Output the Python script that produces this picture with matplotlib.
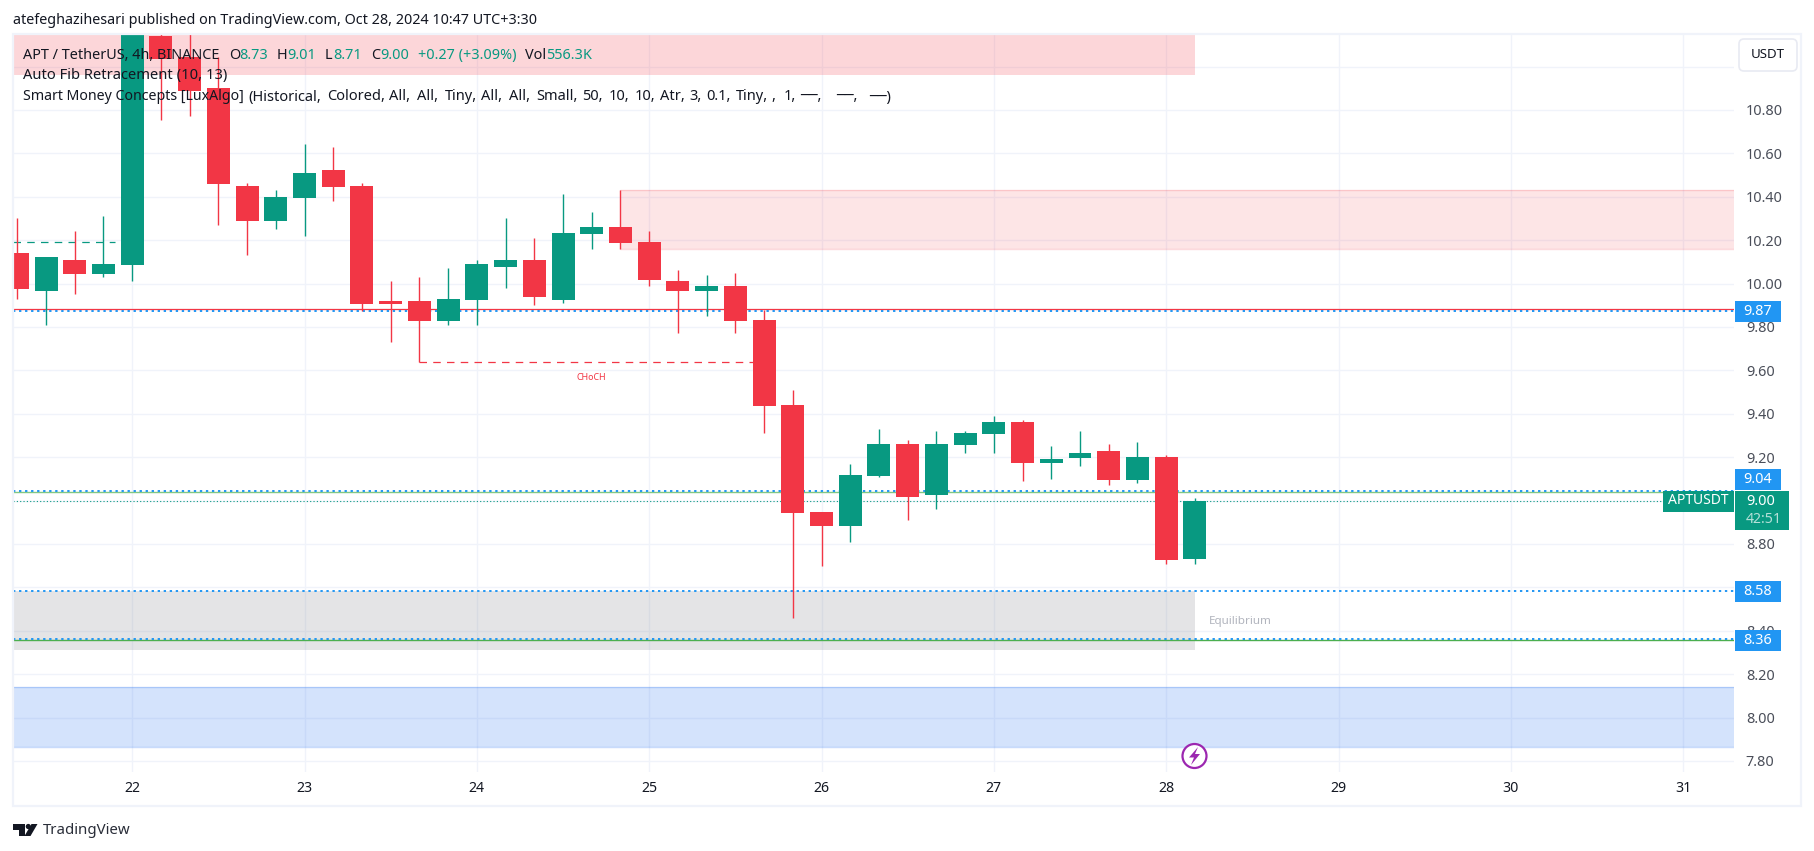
import numpy as np
import matplotlib
matplotlib.use("Agg")
import matplotlib.pyplot as plt
from matplotlib.patches import Rectangle, FancyBboxPatch, Polygon, Circle
from matplotlib.transforms import Affine2D

W, H = 1814, 851
plt.rcParams['font.family'] = ['Noto Sans', 'DejaVu Sans']

# ---- data ----
bar_index = list(range(-4, 38))
opens = [10.141, 9.966, 10.109, 10.044, 10.086, 11.141, 11.043, 10.901, 10.450, 10.289, 10.395, 10.524, 10.450, 9.920,
         9.920, 9.828, 9.924, 10.077, 10.109, 9.924, 10.229, 10.261, 10.192, 10.012, 9.966, 9.989, 9.833, 9.441,
         8.948, 8.883, 9.114, 9.261, 9.026, 9.257, 9.307, 9.363, 9.174, 9.197, 9.229, 9.095, 9.201, 8.730]
closes = [9.975, 10.123, 10.044, 10.090, 11.160, 11.035, 10.889, 10.459, 10.289, 10.399, 10.510, 10.445, 9.906, 9.906,
          9.828, 9.929, 10.090, 10.109, 9.938, 10.233, 10.261, 10.187, 10.017, 9.966, 9.989, 9.828, 9.436, 8.943,
          8.883, 9.118, 9.261, 9.017, 9.261, 9.312, 9.363, 9.174, 9.192, 9.220, 9.095, 9.201, 8.727, 9.000]
highs = [10.302, 10.123, 10.242, 10.312, 11.200, 11.180, 11.200, 11.043, 10.464, 10.431, 10.643, 10.630, 10.464, 10.012,
         10.030, 10.072, 10.109, 10.302, 10.210, 10.413, 10.330, 10.432, 10.243, 10.063, 10.040, 10.049, 9.879, 9.510,
         8.948, 9.169, 9.330, 9.280, 9.321, 9.321, 9.390, 9.372, 9.252, 9.321, 9.261, 9.270, 9.210, 9.012]
lows = [9.931, 9.809, 9.952, 10.030, 10.012, 10.754, 10.772, 10.270, 10.132, 10.252, 10.219, 10.381, 9.874, 9.731,
        9.637, 9.809, 9.809, 9.980, 9.901, 9.911, 10.160, 10.160, 9.989, 9.773, 9.851, 9.773, 9.312, 8.459,
        8.699, 8.810, 9.109, 8.911, 8.962, 9.220, 9.220, 9.091, 9.100, 9.160, 9.072, 9.081, 8.708, 8.708]

price_ticks = [7.8, 8.0, 8.2, 8.4, 8.6, 8.8, 9.0, 9.2, 9.4, 9.6, 9.8, 10.0, 10.2, 10.4, 10.6, 10.8, 11.0]
hidden_price_labels = [8.6, 9.0, 11.0]
day_labels = [22, 23, 24, 25, 26, 27, 28, 29, 30, 31]
bars_per_day = 6
x_range = (-4.15, 55.77)
y_range = (7.749, 11.15)

zone_top_pink = (10.96, 11.15)
zone_supply = (10.161, 10.432)
zone_equilibrium = (8.31, 8.585)
zone_demand = (7.863, 8.14)
zone_end_bar = 37
supply_start_bar = 17

red_line = 9.884
green_line_a = 9.038
green_line_b = 8.356
blue_dotted = [9.873, 9.045, 8.585, 8.361]
last_price = 9.00
choch_level = 9.637
choch_bars = (10, 22)
dash_green_level = 10.19
dash_green_end_bar = -0.6

GREEN, RED, BLUE, GRID, DARK = '#089981', '#F23645', '#2196F3', '#F0F3FA', '#131722'
LABEL = '#4A4E59'

fig = plt.figure(figsize=(W / 100, H / 100), dpi=100, facecolor='white')
L, R, T, B = 13, 1734, 34, 772
ax = fig.add_axes([L / W, 1 - B / H, (R - L) / W, (B - T) / H])
ax.set_xlim(*x_range)
ax.set_ylim(*y_range)
for s in ax.spines.values():
    s.set_visible(False)
ax.set_axisbelow(True)
ax.grid(True, color=GRID, lw=1.0)
ax.yaxis.tick_right()
ax.set_yticks(price_ticks)
ax.set_yticklabels(['' if p in hidden_price_labels else f'{p:.2f}' for p in price_ticks], fontsize=10.4, color=LABEL)
ax.tick_params(axis='y', length=0, pad=8.5)
ax.set_xticks([i * bars_per_day for i in range(len(day_labels))])
ax.set_xticklabels([str(d) for d in day_labels], fontsize=10.2, color=DARK)
ax.tick_params(axis='x', length=0, pad=6.5)
ax.get_xticklabels()[day_labels.index(28)].set_fontweight('bold')

# zones
x0, x1 = x_range
def zone(a, b, lo, hi, col, alpha, edge=None):
    ax.add_patch(Rectangle((a, lo), b - a, hi - lo, facecolor=col, alpha=alpha, lw=0, zorder=1))
    if edge:
        ax.hlines([lo, hi], a, b, color=col, alpha=edge, lw=1.0, zorder=1.1)
zone(x0, zone_end_bar, *zone_top_pink, RED, 0.2)
zone(supply_start_bar, x1, *zone_supply, RED, 0.13, 0.18)
zone(x0, zone_end_bar, *zone_equilibrium, '#787B86', 0.2)
zone(x0, x1, *zone_demand, '#2873F0', 0.2, 0.25)

# levels
ax.axhline(red_line, color=RED, lw=0.9, zorder=1.5)
ax.axhline(green_line_a, color='#81C784', lw=1.0, zorder=1.5)
ax.axhline(green_line_b, color='#4CAF50', lw=1.0, zorder=1.5)
for lv in blue_dotted:
    ax.axhline(lv, color=BLUE, lw=1.4, ls=(0, (1.2, 1.9)), zorder=1.6)
ax.axhline(last_price, color=GREEN, lw=0.8, ls=(0, (1, 2)), zorder=1.6)
ax.hlines(dash_green_level, x0, dash_green_end_bar, color=GREEN, lw=0.9, ls=(0, (6, 5)), zorder=1.6)
ax.hlines(choch_level, *choch_bars, color=RED, lw=0.9, ls=(0, (6, 5)), zorder=1.6)
ax.vlines(choch_bars[0], choch_level, lows[bar_index.index(choch_bars[0])], color=RED, lw=0.9, zorder=1.6)
ax.text(16, 9.565, 'CHoCH', color=RED, fontsize=6.4, ha='center', va='center', zorder=3)
ax.text(zone_end_bar + 0.5, 8.443, 'Equilibrium', color='#B2B5BE', fontsize=8.4, va='center', ha='left', zorder=3)

# candles
o, c, h, l, xs = map(np.array, (opens, closes, highs, lows, bar_index))
cols = [GREEN if ci >= oi else RED for oi, ci in zip(o, c)]
ax.vlines(xs, l, h, colors=cols, lw=1.0, zorder=2)
ax.bar(xs, np.abs(c - o), bottom=np.minimum(o, c), width=0.8, color=cols, lw=0, zorder=2.2)

# pixel-space overlay helper
px = Affine2D().scale(1 / W, -1 / H).translate(0, 1) + fig.transFigure

def t(x, y, s, color=DARK, size=10.3, ha='left', **kw):
    return fig.text(x / W, 1 - y / H, s, color=color, fontsize=size, ha=ha, va='center', zorder=10, **kw)

def box(x, y, w, h_, col, z=6):
    fig.add_artist(Rectangle((x, y), w, h_, transform=px, facecolor=col, edgecolor='none', lw=0, zorder=z))

# frame
fig.add_artist(Rectangle((13, 33.5), 1788, 772.5, transform=px, fill=False, edgecolor=GRID, lw=1.6, zorder=9))

# price tags: y position follows the price scale
trans = ax.transData + fig.transFigure.inverted()
def tag_y(p):
    return H * (1 - trans.transform((0, p))[1])

tag_levels = [(9.87, '9.87'), (9.097, '9.04'), (8.58, '8.58'), (8.353, '8.36')]
for p, s in tag_levels:
    yy = tag_y(p)
    box(1735, yy - 10.5, 46, 21, BLUE)
    t(1758, yy, s, color='white', size=10.4, ha='center')
yy = tag_y(last_price)
box(1735, yy - 10, 54, 39, GREEN)
box(1663, yy - 10, 71, 21, GREEN)
t(1698.5, yy, 'APTUSDT', color='white', size=10, ha='center')
t(1746, yy + 0.5, f'{last_price:.2f}', color='white', size=10.4)
t(1746, yy + 19, '42:51', color='#B5E0D8', size=10.2)

# USDT button
fig.add_artist(FancyBboxPatch((1742, 42), 52, 26, boxstyle='round,pad=3,rounding_size=5', transform=px,
                              facecolor='white', edgecolor='#E8EAF2', lw=1.2, zorder=8))
t(1768, 55, 'USDT', color=DARK, size=9.6, ha='center')

# header
t(13, 21, 'atefeghazihesari published on TradingView.com, Oct 28, 2024 10:47 UTC+3:30', size=10.35)

# legend rows
row1 = [(23, 'APT / TetherUS, 4h, BINANCE', DARK), (229, 'O', DARK), (239, '8.73', GREEN),
        (277, 'H', DARK), (287, '9.01', GREEN), (325, 'L', DARK), (333, '8.71', GREEN),
        (371, 'C', DARK), (380.5, '9.00', GREEN), (418, '+0.27 (+3.09%)', GREEN),
        (525, 'Vol', DARK), (546, '556.3', GREEN), (583, 'K', GREEN)]
for x, s, col in row1:
    t(x, 55.5, s, color=col, size=10.4)
t(23, 76, 'Auto Fib Retracement (10, 13)', size=10.6)
row3 = [(23, 'Smart Money Concepts [LuxAlgo]'), (248, '(Historical,'), (327.6, 'Colored,'), (389, 'All,'),
        (417, 'All,'), (445, 'Tiny,'), (481, 'All,'), (509, 'All,'), (536.5, 'Small,'), (582.5, '50,'),
        (608.6, '10,'), (635, '10,'), (660, 'Atr,'), (689, '3,'), (706.4, '0.1,'), (736, 'Tiny,'),
        (771.6, ','), (784, '1,'), (800, '\u2500\u2500,'), (836, '\u2500\u2500,'), (869, '\u2500\u2500)')]
for x, s in row3:
    t(x, 97, s, size=10.2 if x == 23 else 10.5)

# lightning icon
fig.add_artist(Circle((1194.5, 756), 12, transform=px, facecolor='white', edgecolor='#9C27B0', lw=1.6, zorder=7))
fig.add_artist(Polygon([(1198, 747), (1189, 757.5), (1194, 757.5), (1191, 765), (1200, 754), (1195, 754)],
                       closed=True, transform=px, facecolor='#9C27B0', edgecolor='none', zorder=8))

# TradingView logo
logo_dy = 1
fig.add_artist(Polygon([(13, 823 + logo_dy), (24.5, 823 + logo_dy), (24.5, 835 + logo_dy), (18.5, 835 + logo_dy),
                        (18.5, 828.5 + logo_dy), (13, 828.5 + logo_dy)],
                       closed=True, transform=px, facecolor='#131722', edgecolor='none', zorder=8))
fig.add_artist(Circle((28.3, 825.5 + logo_dy), 2.6, transform=px, facecolor='#131722', edgecolor='none', zorder=8))
fig.add_artist(Polygon([(31.5, 823 + logo_dy), (37.5, 823 + logo_dy), (30.5, 835 + logo_dy), (24.5, 835 + logo_dy)],
                       closed=True, transform=px, facecolor='#131722', edgecolor='none', zorder=8))
t(43, 831, 'TradingView', color='#2A2E39', size=10.8)

fig.savefig('out.png', dpi=100, facecolor='white')
